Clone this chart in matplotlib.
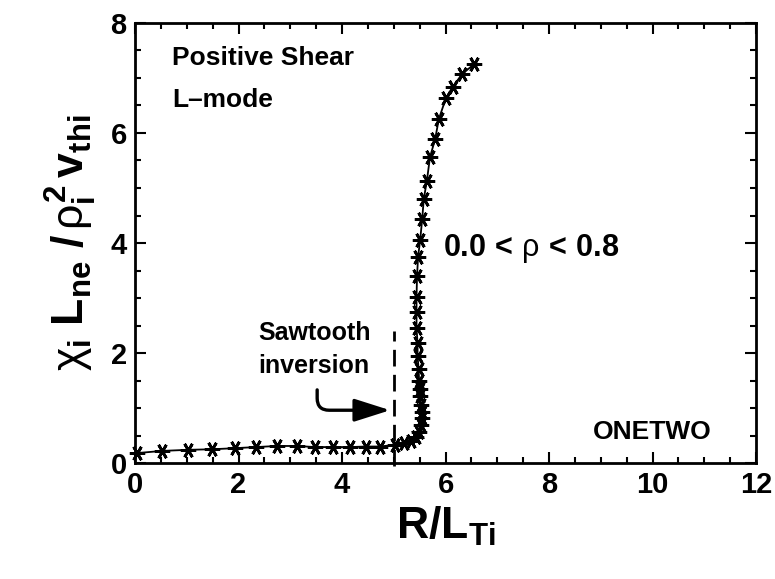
import matplotlib
matplotlib.use("Agg")
import matplotlib.pyplot as plt
from matplotlib.ticker import MultipleLocator

plt.rcParams['font.family'] = ['Liberation Sans', 'DejaVu Sans']
plt.rcParams['mathtext.fontset'] = 'custom'
plt.rcParams['mathtext.rm'] = 'Liberation Sans:bold'
plt.rcParams['mathtext.bf'] = 'Liberation Sans:bold'
plt.rcParams['mathtext.it'] = 'Liberation Sans'
plt.rcParams['mathtext.default'] = 'rm'

# normalized ion diffusivity vs R/L_Ti (ONETWO scan, 0.0 < rho < 0.8)
r_lti = [0.03, 0.52, 1.02, 1.49, 1.93, 2.34, 2.74, 3.13, 3.48, 3.83, 4.15, 4.46,
         4.73, 5.02, 5.20, 5.33, 5.43, 5.49, 5.53, 5.55, 5.55, 5.53, 5.51, 5.50,
         5.49, 5.48, 5.46, 5.46, 5.44, 5.44, 5.44, 5.45, 5.47, 5.51, 5.55, 5.58,
         5.64, 5.70, 5.80, 5.87, 6.01, 6.14, 6.32, 6.55]
chi_norm = [0.18, 0.22, 0.24, 0.25, 0.27, 0.29, 0.31, 0.31, 0.29, 0.29, 0.29, 0.30,
            0.30, 0.33, 0.36, 0.40, 0.47, 0.56, 0.69, 0.82, 0.93, 1.05, 1.22, 1.35,
            1.49, 1.71, 1.95, 2.18, 2.45, 2.75, 3.02, 3.40, 3.75, 4.05, 4.44, 4.80,
            5.13, 5.56, 5.89, 6.25, 6.64, 6.84, 7.07, 7.25]

sawtooth_x = 5.0
sawtooth_top = 2.4

fig = plt.figure(figsize=(7.75, 5.79), dpi=100)
ax = fig.add_axes([0.1742, 0.2003, 0.8013, 0.7600])

ax.plot(r_lti, chi_norm, color='black', lw=1.3, marker=(6, 2, 90),
        markersize=11, markeredgewidth=2.0, clip_on=False, zorder=3)

ax.plot([sawtooth_x, sawtooth_x], [-0.05, sawtooth_top], color='black', lw=2,
        dashes=(6, 3), clip_on=False)

ax.annotate('', xy=(4.93, 0.96), xytext=(3.52, 1.33),
            arrowprops=dict(arrowstyle='-|>,head_length=2.2,head_width=0.7',
                            connectionstyle='angle,angleA=90,angleB=0,rad=12',
                            color='black', lw=2.4, shrinkA=0, shrinkB=0))

ax.text(3.46, 2.36, 'Sawtooth', ha='center', va='center', fontsize=18, fontweight='bold')
ax.text(3.46, 1.76, 'inversion', ha='center', va='center', fontsize=18, fontweight='bold')
ax.text(0.72, 7.36, 'Positive Shear', ha='left', va='center', fontsize=19, fontweight='bold')
ax.text(0.72, 6.60, 'L\u2013mode', ha='left', va='center', fontsize=19, fontweight='bold')
ax.text(5.95, 3.9, r'$\mathrm{0.0}\,<\,\mathit{\rho}\,<\,\mathrm{0.8}$',
        ha='left', va='center', fontsize=22)
ax.text(10.0, 0.57, 'ONETWO', ha='center', va='center', fontsize=19, fontweight='bold')

ax.set_xlim(0, 12)
ax.set_ylim(0, 8)
ax.xaxis.set_major_locator(MultipleLocator(2))
ax.xaxis.set_minor_locator(MultipleLocator(0.5))
ax.yaxis.set_major_locator(MultipleLocator(2))
ax.yaxis.set_minor_locator(MultipleLocator(0.5))
ax.tick_params(which='both', direction='in', top=True, right=True, width=1.5)
ax.tick_params(which='major', length=8, labelsize=21, pad=6)
ax.tick_params(which='minor', length=4.5)
for lab in ax.get_xticklabels() + ax.get_yticklabels():
    lab.set_fontweight('bold')
for sp in ax.spines.values():
    sp.set_linewidth(2)

ax.set_xlabel(r'$\mathrm{R/L_{Ti}}$', fontsize=32, labelpad=4)
ax.set_ylabel(r'$\mathit{\chi}_\mathrm{i}\ \mathrm{L_{ne}}\ \mathrm{/}\,\mathit{\rho}^\mathrm{2}_\mathrm{i}\,\mathrm{v_{thi}}$',
              fontsize=32, labelpad=8)

fig.savefig('out.png', dpi=100)
